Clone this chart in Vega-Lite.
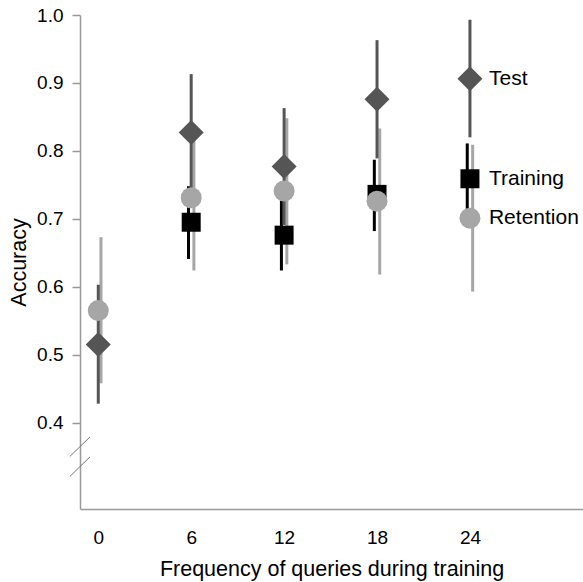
{
  "$schema": "https://vega.github.io/schema/vega-lite/v6.json",
  "width": 503,
  "height": 494,
  "autosize": {"type": "none"},
  "padding": {"left": 80, "top": 15, "right": 0, "bottom": 73},
  "background": "white",
  "config": {
    "view": {"stroke": null},
    "font": "Liberation Sans",
    "axis": {"grid": false, "labelFont": "Liberation Sans", "titleFont": "Liberation Sans", "labelColor": "black", "titleColor": "black", "titleFontWeight": "normal", "domainColor": "#999999", "tickColor": "#999999", "domainWidth": 1.5, "tickWidth": 1.5}
  },
  "datasets": {
    "acc": [
      {"freq": 0, "series": "Test", "mean": 0.515, "lo": 0.428, "hi": 0.603},
      {"freq": 0, "series": "Retention", "mean": 0.565, "lo": 0.458, "hi": 0.673},
      {"freq": 6, "series": "Test", "mean": 0.827, "lo": 0.741, "hi": 0.913},
      {"freq": 6, "series": "Training", "mean": 0.695, "lo": 0.641, "hi": 0.748},
      {"freq": 6, "series": "Retention", "mean": 0.731, "lo": 0.624, "hi": 0.838},
      {"freq": 12, "series": "Test", "mean": 0.777, "lo": 0.691, "hi": 0.863},
      {"freq": 12, "series": "Training", "mean": 0.676, "lo": 0.624, "hi": 0.727},
      {"freq": 12, "series": "Retention", "mean": 0.741, "lo": 0.633, "hi": 0.848},
      {"freq": 18, "series": "Test", "mean": 0.876, "lo": 0.789, "hi": 0.963},
      {"freq": 18, "series": "Training", "mean": 0.736, "lo": 0.682, "hi": 0.787},
      {"freq": 18, "series": "Retention", "mean": 0.726, "lo": 0.618, "hi": 0.833},
      {"freq": 24, "series": "Test", "mean": 0.906, "lo": 0.82, "hi": 0.993},
      {"freq": 24, "series": "Training", "mean": 0.759, "lo": 0.707, "hi": 0.811},
      {"freq": 24, "series": "Retention", "mean": 0.701, "lo": 0.593, "hi": 0.809}
    ],
    "breaks": [
      {"xa": -1.83, "xb": -0.54, "ya": 0.3504, "yb": 0.379},
      {"xa": -1.83, "xb": -0.54, "ya": 0.321, "yb": 0.3496}
    ]
  },
  "layer": [
    {
      "data": {"name": "acc"},
      "transform": [{"filter": "datum.series === 'Training'"}],
      "mark": {"type": "rule", "color": "#000000", "strokeWidth": 3, "xOffset": -2.7},
      "encoding": {
        "x": {"field": "freq", "type": "quantitative", "scale": {"domain": [-1.18, 31.3], "nice": false, "zero": false},
          "axis": {"values": [0, 6, 12, 18, 24], "ticks": false, "labelPadding": 19, "labelFontSize": 19, "title": "Frequency of queries during training", "titleFontSize": 21.5, "titlePadding": 11}},
        "y": {"field": "lo", "type": "quantitative", "scale": {"domain": [0.273, 1.0], "nice": false, "zero": false},
          "axis": {"values": [0.4, 0.5, 0.6, 0.7, 0.8, 0.9, 1.0], "format": ".1f", "tickSize": 8, "labelPadding": 9, "labelFontSize": 19, "title": "Accuracy", "titleFontSize": 21.5, "titlePadding": 6}},
        "y2": {"field": "hi"}
      }
    },
    {
      "data": {"name": "acc"},
      "transform": [{"filter": "datum.series === 'Retention'"}],
      "mark": {"type": "rule", "color": "#a6a6a6", "strokeWidth": 3, "xOffset": 2.7},
      "encoding": {
        "x": {"field": "freq", "type": "quantitative"},
        "y": {"field": "lo", "type": "quantitative"},
        "y2": {"field": "hi"}
      }
    },
    {
      "data": {"name": "acc"},
      "transform": [{"filter": "datum.series === 'Test'"}],
      "mark": {"type": "rule", "color": "#555555", "strokeWidth": 3},
      "encoding": {
        "x": {"field": "freq", "type": "quantitative"},
        "y": {"field": "lo", "type": "quantitative"},
        "y2": {"field": "hi"}
      }
    },
    {
      "data": {"name": "acc"},
      "transform": [{"filter": "datum.series === 'Training'"}],
      "mark": {"type": "point", "shape": "square", "filled": true, "color": "#000000", "size": 361, "opacity": 1},
      "encoding": {
        "x": {"field": "freq", "type": "quantitative"},
        "y": {"field": "mean", "type": "quantitative"}
      }
    },
    {
      "data": {"name": "acc"},
      "transform": [{"filter": "datum.series === 'Retention'"}],
      "mark": {"type": "point", "shape": "circle", "filled": true, "color": "#a6a6a6", "size": 441, "opacity": 1},
      "encoding": {
        "x": {"field": "freq", "type": "quantitative"},
        "y": {"field": "mean", "type": "quantitative"}
      }
    },
    {
      "data": {"name": "acc"},
      "transform": [{"filter": "datum.series === 'Test'"}],
      "mark": {"type": "point", "shape": "diamond", "filled": true, "color": "#555555", "size": 625, "opacity": 1},
      "encoding": {
        "x": {"field": "freq", "type": "quantitative"},
        "y": {"field": "mean", "type": "quantitative"}
      }
    },
    {
      "data": {"name": "acc"},
      "transform": [{"filter": "datum.freq === 24"}],
      "mark": {"type": "text", "align": "left", "baseline": "middle", "dx": 19, "fontSize": 21, "color": "black"},
      "encoding": {
        "x": {"field": "freq", "type": "quantitative"},
        "y": {"field": "mean", "type": "quantitative"},
        "text": {"field": "series"}
      }
    },
    {
      "data": {"name": "breaks"},
      "mark": {"type": "rule", "color": "#777777", "strokeWidth": 1},
      "encoding": {
        "x": {"field": "xa", "type": "quantitative"},
        "x2": {"field": "xb"},
        "y": {"field": "ya", "type": "quantitative"},
        "y2": {"field": "yb"}
      }
    }
  ]
}
